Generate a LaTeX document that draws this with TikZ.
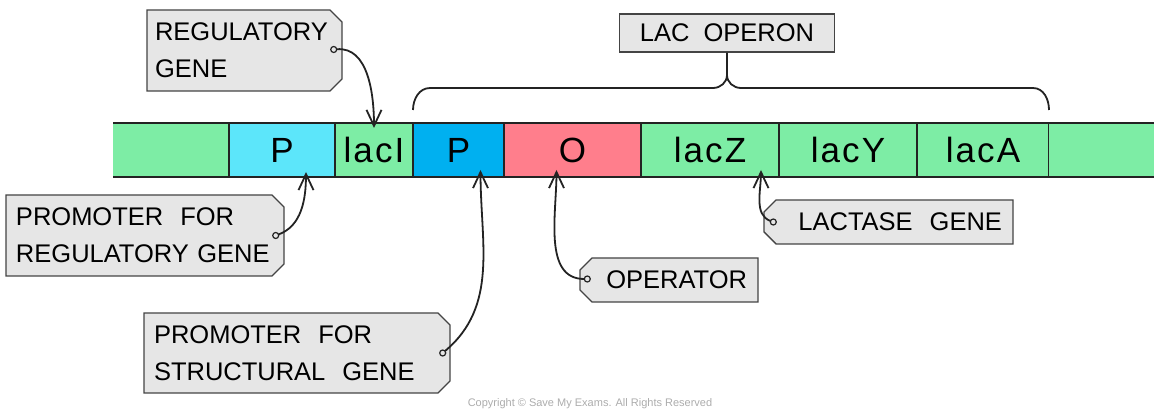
\documentclass[tikz,border=0pt]{standalone}
\usepackage{fontspec}
\setmainfont{Liberation Sans}
\usetikzlibrary{positioning,shapes.misc,arrows.meta}
\definecolor{genegreen}{RGB}{125,237,165}
\definecolor{cyanp}{RGB}{92,230,250}
\definecolor{bluep}{RGB}{0,176,240}
\definecolor{redo}{RGB}{255,126,140}
\definecolor{tagfill}{RGB}{230,230,230}
\definecolor{ink}{RGB}{35,35,35}

\begin{document}
\begin{tikzpicture}[x=1pt,y=1pt,>={Straight Barb[length=16pt,width=15pt]},
  line width=1.8pt,draw=ink,
  gene/.style={draw=ink,line width=1.6pt,minimum height=54pt,inner sep=0pt,outer sep=0pt,
    font=\fontsize{35}{36}\selectfont\addfontfeature{LetterSpace=6}},
  flank/.style={fill=genegreen,minimum height=54pt,inner sep=0pt,outer sep=0pt},
  tag/.style={chamfered rectangle,draw=ink!85,fill=tagfill,line width=1.4pt,
    chamfered rectangle sep=6pt,inner sep=0pt,
    font=\fontsize{25.5}{37}\selectfont},
  hole/.style={draw=ink,fill=tagfill,line width=1.2pt}]
   \useasboundingbox (0,0) rectangle (1154,-411);
   % dna strip
   \node[flank,minimum width=116pt] (left_end) at (171,-150) {};
   \node[gene,fill=cyanp,minimum width=106pt,right=0pt of left_end] (p_reg) {P};
   \node[gene,fill=genegreen,minimum width=78pt,right=0pt of p_reg] (lac_i) {lacI};
   \node[gene,fill=bluep,minimum width=91pt,right=0pt of lac_i] (p_str) {P};
   \node[gene,fill=redo,minimum width=137pt,right=0pt of p_str] (op) {O};
   \node[gene,fill=genegreen,minimum width=138pt,right=0pt of op] (lac_z) {lacZ};
   \node[gene,fill=genegreen,minimum width=138pt,right=0pt of lac_z] (lac_y) {lacY};
   \node[gene,fill=genegreen,minimum width=132pt,right=0pt of lac_y] (lac_a) {lacA};
   \node[flank,minimum width=110pt,right=0pt of lac_a] (right_end) {};
   \draw[line width=1.6pt] (left_end.north west) -- (right_end.north east)
         (left_end.south west) -- (right_end.south east);

   % labels
   \node[draw=ink!85,fill=tagfill,line width=1.4pt,minimum width=215pt,minimum height=38pt,
     font=\fontsize{25.5}{30}\selectfont] (operon) at (727,-33) {LAC~~OPERON};
   \node[tag,chamfered rectangle corners={north east,south east},minimum width=195pt,
     minimum height=81pt,text width=179pt,align=left] (reg) at (244.5,-50.5)
     {REGULATORY\\GENE};
   \node[tag,chamfered rectangle corners={north east,south east},minimum width=278pt,
     minimum height=81pt,text width=258pt,align=left] (prom_reg) at (145,-235.5)
     {PROMOTER~~FOR\\REGULATORY GENE};
   \node[tag,chamfered rectangle corners={north east,south east},minimum width=306pt,
     minimum height=80pt,text width=286pt,align=left] (prom_str) at (297,-353)
     {PROMOTER~~FOR\\STRUCTURAL~~GENE};
   \node[tag,chamfered rectangle corners={north west,south west},minimum width=178pt,
     minimum height=44pt,text width=156pt,align=right] (oper) at (669,-280) {OPERATOR};
   \node[tag,chamfered rectangle corners={north west,south west},minimum width=249pt,
     minimum height=44pt,text width=227pt,align=right] (lactase) at (888.5,-222)
     {LACTASE~~GENE};

   % holes in the tags
   \coordinate (h_reg) at ([xshift=-9pt,yshift=1pt]reg.east);
   \coordinate (h_preg) at ([xshift=-9pt]prom_reg.east);
   \coordinate (h_pstr) at ([xshift=-8pt]prom_str.east);
   \coordinate (h_op) at ([xshift=8pt,yshift=1pt]oper.west);
   \coordinate (h_lz) at ([xshift=10pt]lactase.west);
   \foreach \h in {h_reg,h_preg,h_pstr,h_op,h_lz}
     \draw[hole] (\h) circle (3pt);

   % pointers
   \draw[->,shorten <=3pt] (h_reg) to[out=5,in=90] ([yshift=-5pt]lac_i.north);
   \draw[->,shorten <=3pt] (h_preg) to[out=20,in=-90] ([xshift=24pt,yshift=5pt]p_reg.south);
   \draw[->,shorten <=3pt] (h_pstr) to[out=40,in=-90] ([xshift=22pt,yshift=7pt]p_str.south);
   \draw[->,shorten <=3pt] (h_op) to[out=180,in=-90] ([xshift=-16pt,yshift=7pt]op.south);
   \draw[->,shorten <=3pt] (h_lz) to[out=160,in=-90] ([xshift=51pt,yshift=7pt]lac_z.south);

   % brace over the operon
   \coordinate (brace_l) at ([yshift=13pt]p_str.north west);
   \coordinate (brace_r) at ([yshift=13pt]lac_a.north east);
   \coordinate (brace_tip) at (727,-75);
   \draw (brace_l) to[out=90,in=180] (430,-88) -- (713,-88) to[out=0,in=-90] (brace_tip)
         -- (operon.south);
   \draw (brace_r) to[out=90,in=0] (1033,-88) -- (741,-88) to[out=180,in=-90] (brace_tip);

   \node[text=gray!65,font=\fontsize{11}{12}\selectfont] (copy) at (590,-404)
     {Copyright © Save My Exams. All Rights Reserved};
\end{tikzpicture}
\end{document}
